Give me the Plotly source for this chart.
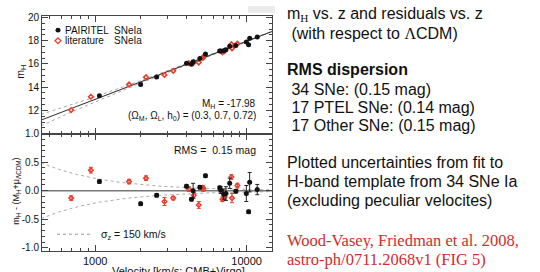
import numpy as np
import plotly.graph_objects as go

# ---------------- data ----------------
# PAIRITEL SNe Ia: velocity [km/s], m_H, residual, residual error
ptel_v = [1067, 1997, 2546, 4010, 4325, 4433, 4910, 5350, 6640, 6750,
          7050, 7300, 7730, 8480, 9950, 10470, 10300, 11750]
ptel_m = [13.25, 14.22, 14.88, 16.05, 15.98, 16.19, 16.47, 16.85, 17.11, 17.11,
          17.13, 17.22, 17.52, 17.58, 17.89, 18.20, 17.65, 18.32]
ptel_r = [0.16, -0.23, -0.08, 0.08, -0.15, 0.00, 0.06, 0.26, 0.05, 0.01,
          -0.06, -0.05, 0.13, -0.01, -0.05, 0.15, -0.37, 0.02]
ptel_e = [0.03, 0.03, 0.03, 0.03, 0.03, 0.13, 0.03, 0.03, 0.03, 0.06,
          0.09, 0.12, 0.09, 0.03, 0.14, 0.17, 0.03, 0.09]

# literature SNe Ia
lit_v = [695, 937, 1674, 2166, 2870, 3275, 4150, 4480, 4830, 5130,
         5180, 6920, 7150, 8000, 7930, 8690]
lit_m = [12.03, 13.17, 14.23, 14.85, 15.05, 15.40, 16.07, 16.13, 16.12, 16.55,
         16.55, 17.00, 17.11, 17.34, 17.69, 17.74]
lit_r = [-0.13, 0.36, 0.16, 0.22, -0.19, -0.13, 0.03, -0.08, -0.25, 0.05,
         0.03, -0.15, -0.11, -0.13, 0.24, 0.09]
lit_e = [0.04, 0.05, 0.04, 0.04, 0.07, 0.03, 0.04, 0.05, 0.06, 0.04,
         0.04, 0.04, 0.05, 0.08, 0.04, 0.04]

# model line (slope 5 Hubble law, intercept) and
# peculiar-velocity envelope coefficient (mag * km/s)
line_intercept = -2.05
env_coef = 215.0
v_model = np.logspace(np.log10(440), np.log10(15500), 300)
m_model = 5 * np.log10(v_model) + line_intercept
env = env_coef / v_model

x_ticks = [1000, 10000]
x_ticktext = ["1000", "10000"]
x_minor = [500, 600, 700, 800, 900, 2000, 3000, 4000, 5000, 6000, 7000, 8000, 9000]
y1_ticks = [12, 14, 16, 18, 20]
y2_ticks = [-1.0, -0.5, 0.0, 0.5, 1.0]
y2_ticktext = ["-1.0", "-0.5", "0.0", "0.5", "1.0"]

BLACK = "#111111"
RED = "#e8402f"
TXTRED = "#d42a2e"
FONT = "Liberation Sans, Arial, sans-serif"

W, H = 540, 272
def px(x):
    return x / W
def py(y):
    return 1 - y / H

fig = go.Figure()

# ---- top panel ----
for sgn in (1, -1):
    fig.add_trace(go.Scatter(x=v_model, y=m_model + sgn * env, mode="lines",
                             line=dict(color="#aaaaaa", width=1, dash="dot"),
                             xaxis="x", yaxis="y", showlegend=False, hoverinfo="skip"))
fig.add_trace(go.Scatter(x=v_model, y=m_model, mode="lines",
                         line=dict(color="#333333", width=1.1),
                         xaxis="x", yaxis="y", showlegend=False, hoverinfo="skip"))
fig.add_trace(go.Scatter(x=lit_v, y=lit_m, mode="markers",
                         marker=dict(symbol="diamond-open", size=3.5, color=RED,
                                     line=dict(color=RED, width=1.6)),
                         xaxis="x", yaxis="y", showlegend=False))
fig.add_trace(go.Scatter(x=ptel_v, y=ptel_m, mode="markers",
                         marker=dict(symbol="circle", size=5, color=BLACK),
                         xaxis="x", yaxis="y", showlegend=False))

# ---- bottom panel ----
for sgn in (1, -1):
    fig.add_trace(go.Scatter(x=v_model, y=sgn * env, mode="lines",
                             line=dict(color="#aaaaaa", width=1, dash="dot"),
                             xaxis="x2", yaxis="y2", showlegend=False, hoverinfo="skip"))
fig.add_trace(go.Scatter(x=[v_model[0], v_model[-1]], y=[0, 0], mode="lines",
                         line=dict(color="#777777", width=1.5),
                         xaxis="x2", yaxis="y2", showlegend=False, hoverinfo="skip"))
fig.add_trace(go.Scatter(x=lit_v, y=lit_r, mode="markers",
                         marker=dict(symbol="diamond-open", size=3.5, color=RED,
                                     line=dict(color=RED, width=1.5)),
                         error_y=dict(type="data", array=lit_e, color=RED,
                                      thickness=1, width=2),
                         xaxis="x2", yaxis="y2", showlegend=False))
fig.add_trace(go.Scatter(x=ptel_v, y=ptel_r, mode="markers",
                         marker=dict(symbol="circle", size=5, color=BLACK),
                         error_y=dict(type="data", array=ptel_e, color="#222222",
                                      thickness=1, width=2),
                         xaxis="x2", yaxis="y2", showlegend=False))

xdom = [px(42), px(272)]
axis_common = dict(showline=True, linecolor="#444444", linewidth=1,
                   mirror="ticks", ticks="inside", tickcolor="#444444",
                   showgrid=False, zeroline=False)
xr = [np.log10(446), np.log10(14700)]

fig.update_layout(
    width=W, height=H,
    margin=dict(l=0, r=0, t=0, b=0),
    paper_bgcolor="white", plot_bgcolor="white",
    hovermode=False,
    font=dict(family=FONT, color="#111111", size=10),
    xaxis=dict(domain=xdom, type="log", range=xr, anchor="y",
               tickvals=x_ticks, showticklabels=False, ticklen=6,
               minor=dict(tickvals=x_minor, ticklen=3, ticks="inside",
                          tickcolor="#444444"),
               **axis_common),
    yaxis=dict(domain=[py(132), py(10)], range=[10, 20.15], anchor="x",
               tickvals=y1_ticks, ticklen=6, tickfont=dict(size=10),
               minor=dict(dtick=0.5, ticklen=3, ticks="inside", tickcolor="#444444"),
               **axis_common),
    xaxis2=dict(domain=xdom, type="log", range=xr, anchor="y2",
                tickvals=x_ticks, ticktext=x_ticktext, ticklen=6,
                tickfont=dict(size=11),
                minor=dict(tickvals=x_minor, ticklen=3, ticks="inside",
                           tickcolor="#444444"),
                **axis_common),
    yaxis2=dict(domain=[py(253), py(132)], range=[-1.05, 1.0], anchor="x2",
                tickvals=y2_ticks, ticktext=y2_ticktext, ticklen=6,
                tickfont=dict(size=10),
                minor=dict(dtick=0.1, ticklen=3, ticks="inside", tickcolor="#444444"),
                **axis_common),
)

ann = []
def A(x, y, text, size=10, anchor="left", color="#111111", family=FONT, angle=0):
    ann.append(dict(x=px(x), y=py(y), xref="paper", yref="paper", text=text,
                    showarrow=False, xanchor=anchor, yanchor="middle",
                    font=dict(size=size, color=color, family=family),
                    textangle=angle))

# legend
A(63, 25, "PAIRITEL", 10)
A(112, 25, "SNeIa", 10)
A(63, 36, "literature", 10)
A(112, 36, "SNeIa", 10)
# fit annotations
A(258, 101, "M<sub>H</sub> = -17.98", 10, anchor="right")
A(258, 114, "(Ω<sub>M</sub>, Ω<sub>L</sub>, h<sub>0</sub>) = (0.3, 0.7, 0.72)", 10, anchor="right")
A(258, 149, "RMS =  0.15 mag", 10.5, anchor="right")
A(99, 237, "σ<sub>z</sub> = 150 km/s", 10.5)
# axis titles
A(21, 68, "m<sub>H</sub>", 10.5, anchor="center", angle=-90)
A(17, 192, "m<sub>H</sub> - (M<sub>H</sub>+μ<sub>ΛCDM</sub>)", 9, anchor="center", angle=-90)
A(178, 274, "Velocity [km/s; CMB+Virgo]", 11, anchor="center")

# right-hand text
SERIF = "Liberation Serif, Times New Roman, serif"
A(285, 9, "m<span style='font-family:Liberation Serif'><sub>H</sub></span> vs. z and residuals vs. z", 16)
A(285, 28, " (with respect to <span style='font-family:Liberation Serif'>Λ</span>CDM)", 16)
A(285, 66, "<b>RMS dispersion</b>", 16)
A(285, 86, " 34 SNe: (0.15 mag)", 16)
A(285, 105, " 17 PTEL SNe: (0.14 mag)", 16)
A(285, 124, " 17 Other SNe: (0.15 mag)", 16)
A(285, 162, "Plotted uncertainties from fit to", 16)
A(285, 182, "H-band template from 34 SNe Ia", 16)
A(285, 201, "(excluding peculiar velocites)", 16)
A(285, 243, "Wood-Vasey, Friedman et al. 2008,", 16.5, color=TXTRED, family=SERIF)
A(285, 262, "astro-ph/0711.2068v1 (FIG 5)", 16.5, color=TXTRED, family=SERIF)

fig.update_layout(annotations=ann)

# legend markers and sigma line sample, plus faint grey slide element
shapes = [
    dict(type="rect", xref="paper", yref="paper", x0=px(248), x1=px(275),
         y0=py(7), y1=py(0), fillcolor="#ececec", line=dict(width=0), layer="below"),
    dict(type="circle", xref="paper", yref="paper", x0=px(55.5), x1=px(60.5),
         y0=py(27.5), y1=py(22.5), fillcolor=BLACK, line=dict(color=BLACK, width=0)),
    dict(type="path", xref="paper", yref="paper",
         path=f"M {px(58)} {py(33)} L {px(61)} {py(36)} L {px(58)} {py(39)} L {px(55)} {py(36)} Z",
         line=dict(color=RED, width=1.3)),
    dict(type="line", xref="paper", yref="paper", x0=px(57), x1=px(92),
         y0=py(236), y1=py(236), line=dict(color="#999999", width=1, dash="dot")),
]
fig.update_layout(shapes=shapes)

fig.write_html("out.html",
               config={"displayModeBar": False, "staticPlot": True},
               post_script="document.body.style.margin='0';document.body.style.overflow='hidden';")
